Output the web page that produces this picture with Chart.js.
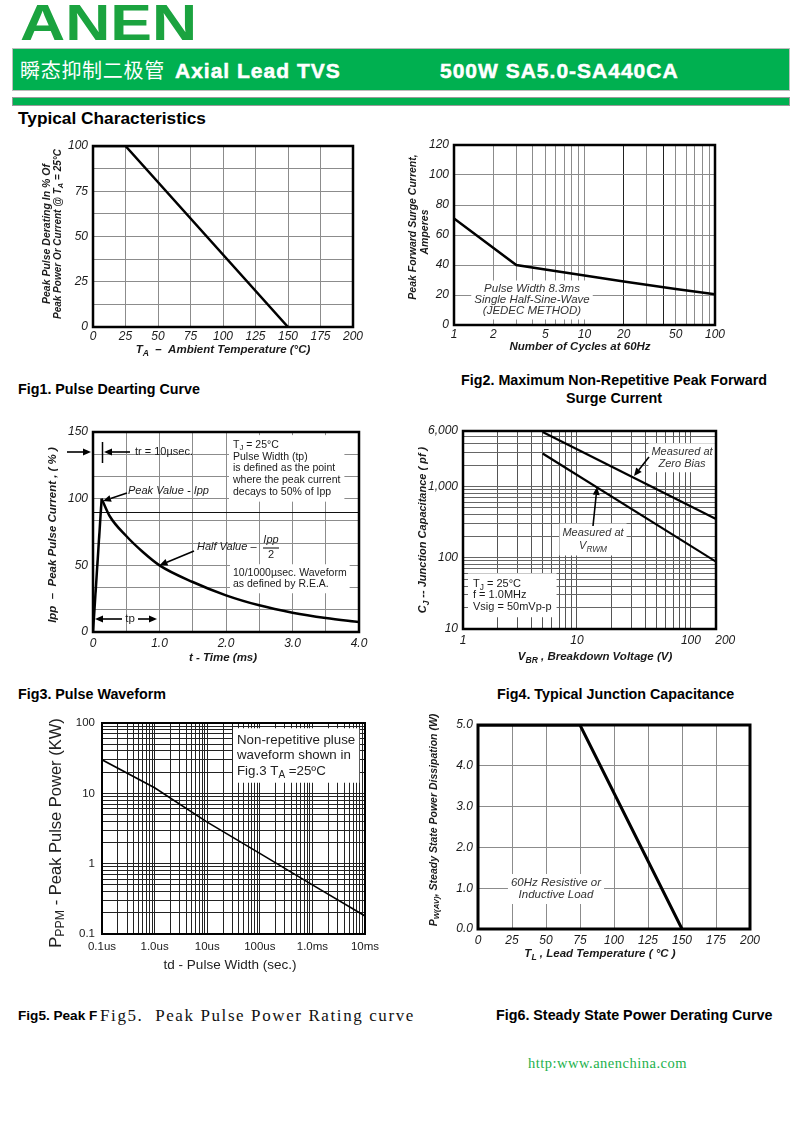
<!DOCTYPE html>
<html>
<head>
<meta charset="utf-8">
<script src="https://cdn.jsdelivr.net/npm/chart.js@4.4.1/dist/chart.umd.min.js"></script>
<style>
body { margin: 0; background: #fff; }
#page { position: relative; width: 800px; height: 1144px; overflow: hidden; background: #fff; font-family: "Liberation Sans", Arial, sans-serif; }
.t { position: absolute; white-space: nowrap; line-height: 1; color: #000; }
.b { font-weight: bold; }
canvas { position: absolute; }
#logo { left: 20px; top: -2px; font-size: 50px; font-weight: bold; color: #1ba33f; transform: scaleX(1.25); transform-origin: left top; }
#bar { position: absolute; left: 12px; top: 48px; width: 776px; height: 41px; background: #00b050; border: 1px solid #bdbdbd; }
#bar2 { position: absolute; left: 12px; top: 97px; width: 776px; height: 7px; background: #00b050; border: 1px solid #9a9a9a; }
.hd { color: #fff; font-size: 21px; font-weight: bold; letter-spacing: 1px; top: 60px; -webkit-text-stroke: 0.5px #fff; }
.cap { font-size: 14.3px; font-weight: bold; }
</style>
</head>
<body>
<div id="page">
  <div class="t" id="logo">ANEN</div>
  <div id="bar"></div>
  <div class="t" style="left:20px;top:60px;font-size:20px;letter-spacing:0.7px;color:#fff;font-family:'Noto Sans CJK SC',sans-serif;">瞬态抑制二极管</div>
  <div class="t hd" style="left:175px;">Axial Lead TVS</div>
  <div class="t hd" style="left:440px;">500W SA5.0-SA440CA</div>
  <div id="bar2"></div>
  <div class="t b" style="left:18px;top:110px;font-size:17.3px;">Typical Characteristics</div>

  <div class="t cap" style="left:18px;top:382px;">Fig1. Pulse Dearting Curve</div>
  <div class="t cap" style="left:414px;top:373px;width:400px;text-align:center;">Fig2. Maximum Non-Repetitive Peak Forward</div>
  <div class="t cap" style="left:414px;top:391px;width:400px;text-align:center;">Surge Current</div>
  <div class="t cap" style="left:18px;top:687px;">Fig3. Pulse Waveform</div>
  <div class="t cap" style="left:497px;top:687px;">Fig4. Typical Junction Capacitance</div>
  <div class="t cap" style="left:18px;top:1009px;font-size:13.6px;">Fig5. Peak F</div>
  <div class="t" style="left:100px;top:1007px;font-size:17px;letter-spacing:1.6px;font-family:'Liberation Serif',serif;color:#111;">Fig5.&nbsp; Peak Pulse Power Rating curve</div>
  <div class="t cap" style="left:496px;top:1008px;">Fig6. Steady State Power Derating Curve</div>
  <div class="t" style="left:528px;top:1056px;font-size:14.5px;letter-spacing:0.5px;font-family:'Liberation Serif',serif;color:#22b14c;">http:www.anenchina.com</div>
</div>

<script>
const SANS = '"Liberation Sans", Arial, sans-serif';

// Fig1 - pulse derating
const f1Temp = [0, 25, 150];
const f1Derate = [100, 100, 0];
const f1XTicks = [0, 25, 50, 75, 100, 125, 150, 175, 200];
const f1XText = ['0', '25', '50', '75', '100', '125', '150', '175', '200'];
const f1YTicks = [0, 25, 50, 75, 100];
const f1YText = ['0', '25', '50', '75', '100'];

// Fig2 - surge current vs cycles
const f2Cycles = [1, 3, 5, 10, 20, 50, 100];
const f2Surge = [71, 40, 37, 33, 29, 24, 20.5];
const f2XTicks = [1, 2, 5, 10, 20, 50, 100];
const f2XText = ['1', '2', '5', '10', '20', '50', '100'];
const f2YTicks = [0, 20, 40, 60, 80, 100, 120];
const f2YText = ['0', '20', '40', '60', '80', '100', '120'];

// Fig3 - pulse waveform
const f3RiseTime = [0, 0.13];
const f3RiseCurrent = [0, 100];
const f3DecayTime = [0.13, 0.25, 0.5, 0.75, 1.0, 1.5, 2.0, 2.5, 3.0, 3.5, 4.0];
const f3DecayCurrent = [100, 87, 72, 60, 50, 37.5, 27.5, 20, 14.5, 10.5, 7.5];
const f3XTicks = [0, 1, 2, 3, 4];
const f3XText = ['0', '1.0', '2.0', '3.0', '4.0'];
const f3YTicks = [0, 50, 100, 150];
const f3YText = ['0', '50', '100', '150'];

// Fig4 - junction capacitance
const f4Voltage = [5, 166];
const f4ZeroBias = [5800, 350];
const f4Vrwm = [2900, 88];
const f4XTicks = [1, 10, 100];
const f4XText = ['1', '10', '100'];
const f4YTicks = [10, 100, 1000, 6000];
const f4YText = ['10', '100', '1,000', '6,000'];

// Fig5 - peak pulse power vs pulse width (seconds)
const f5Width = [1e-7, 1e-6, 1e-5, 1e-4, 1e-3, 1e-2];
const f5Power = [30, 12, 3.9, 1.4, 0.5, 0.18];
const f5XTicks = [1e-7, 1e-6, 1e-5, 1e-4, 1e-3, 1e-2];
const f5XText = ['0.1us', '1.0us', '10us', '100us', '1.0ms', '10ms'];
const f5YTicks = [0.1, 1, 10, 100];
const f5YText = ['0.1', '1', '10', '100'];

// Fig6 - steady state derating
const f6Temp = [0, 75, 150];
const f6Power = [5, 5, 0];
const f6XTicks = [0, 25, 50, 75, 100, 125, 150, 175, 200];
const f6XText = ['0', '25', '50', '75', '100', '125', '150', '175', '200'];
const f6YTicks = [0, 1, 2, 3, 4, 5];
const f6YText = ['0.0', '1.0', '2.0', '3.0', '4.0', '5.0'];

const YW = 65, XH = 45, PT = 15, PR = 25;
const NOTES = {};

function steps(a, b, s) {
  const r = [];
  for (let v = a; v <= b + 1e-9; v += s) r.push(+v.toFixed(6));
  return r;
}
function logGrid(a, b) {
  const r = [];
  for (let e = Math.floor(Math.log10(a)); e <= Math.ceil(Math.log10(b)); e++) {
    for (let k = 1; k < 10; k++) {
      const v = +(k * Math.pow(10, e)).toPrecision(6);
      if (v >= a * 0.9999 && v <= b * 1.0001) r.push(v);
    }
  }
  return r;
}

// text with _{sub} parts
function parseRich(str) {
  const segs = [], re = /_\{([^}]*)\}/g;
  let last = 0, m;
  while ((m = re.exec(str))) {
    if (m.index > last) segs.push({ t: str.slice(last, m.index), sub: false });
    segs.push({ t: m[1], sub: true });
    last = re.lastIndex;
  }
  if (last < str.length) segs.push({ t: str.slice(last), sub: false });
  return segs;
}
function fontOf(n, sub) {
  const size = sub ? Math.round(n.size * 0.75 * 10) / 10 : n.size;
  return (n.style || 'normal') + ' ' + (n.weight || 'normal') + ' ' + size + 'px ' + (n.family || SANS);
}
function measureRich(ctx, str, n) {
  let w = 0;
  parseRich(str).forEach(s => { ctx.font = fontOf(n, s.sub); w += ctx.measureText(s.t).width; });
  return w;
}
function drawRich(ctx, str, x, y, n) {
  const segs = parseRich(str);
  const w = measureRich(ctx, str, n);
  let cx = n.align === 'center' ? x - w / 2 : n.align === 'right' ? x - w : x;
  ctx.textAlign = 'left';
  ctx.textBaseline = 'middle';
  segs.forEach(s => {
    ctx.font = fontOf(n, s.sub);
    ctx.fillText(s.t, cx, s.sub ? y + n.size * 0.3 : y);
    cx += ctx.measureText(s.t).width;
  });
}

function pos(chart, p) {
  const a = chart.chartArea;
  return [p.x != null ? chart.scales.x.getPixelForValue(p.x) : a.left + p.px,
          p.y != null ? chart.scales.y.getPixelForValue(p.y) : a.top + p.py];
}

function drawNote(ctx, chart, it) {
  ctx.save();
  if (it.type === 'arrow') {
    const [x1, y1] = pos(chart, it.from), [x2, y2] = pos(chart, it.to);
    const a = Math.atan2(y2 - y1, x2 - x1), hl = it.head || 8, hw = it.hw || 3.5;
    const bx = x2 - hl * Math.cos(a), by = y2 - hl * Math.sin(a);
    ctx.strokeStyle = ctx.fillStyle = '#000';
    ctx.lineWidth = it.w || 1.6;
    ctx.beginPath(); ctx.moveTo(x1, y1); ctx.lineTo(bx, by); ctx.stroke();
    ctx.beginPath(); ctx.moveTo(x2, y2);
    ctx.lineTo(bx + hw * Math.sin(a), by - hw * Math.cos(a));
    ctx.lineTo(bx - hw * Math.sin(a), by + hw * Math.cos(a));
    ctx.closePath(); ctx.fill();
  } else if (it.type === 'line') {
    const [x1, y1] = pos(chart, it.from), [x2, y2] = pos(chart, it.to);
    ctx.strokeStyle = '#000';
    ctx.lineWidth = it.w || 1;
    ctx.beginPath(); ctx.moveTo(x1, y1); ctx.lineTo(x2, y2); ctx.stroke();
  } else {
    const [X, Y] = pos(chart, it);
    ctx.translate(X, Y);
    if (it.rot) ctx.rotate(it.rot * Math.PI / 180);
    const lh = it.lh || it.size * 1.1;
    if (it.bg) {
      const w = Math.max(...it.lines.map(l => measureRich(ctx, l, it))), pad = it.pad || 3;
      const x0 = it.align === 'center' ? -w / 2 : it.align === 'right' ? -w : 0;
      ctx.fillStyle = '#fff';
      ctx.fillRect(x0 - pad, -lh / 2 - pad, w + 2 * pad, lh * it.lines.length + 2 * pad);
    }
    ctx.fillStyle = it.color || '#1a1a1a';
    it.lines.forEach((l, i) => drawRich(ctx, l, 0, i * lh, it));
  }
  ctx.restore();
}

const notesPlugin = {
  id: 'notes',
  beforeDatasetsDraw(chart) {
    const n = NOTES[chart.canvas.id];
    n.items.forEach(it => drawNote(chart.ctx, chart, it));
  },
  afterDatasetsDraw(chart) {
    const n = NOTES[chart.canvas.id], a = chart.chartArea, ctx = chart.ctx;
    ctx.save();
    ctx.strokeStyle = '#000';
    ctx.lineWidth = n.frame;
    ctx.strokeRect(a.left, a.top, a.right - a.left, a.bottom - a.top);
    ctx.restore();
  }
};

function axis(kind, type, min, max, grid, tickVals, tickText, o) {
  return {
    type: type, min: min, max: max,
    afterBuildTicks: s => { s.ticks = grid.map(v => ({ value: v })); },
    afterFit: s => {
      if (kind === 'x') { s.height = XH; s.paddingLeft = 0; s.paddingRight = 0; }
      else { s.width = YW; s.paddingTop = 0; s.paddingBottom = 0; }
    },
    ticks: {
      autoSkip: false, maxRotation: 0, minRotation: 0, padding: o.pad, color: '#1a1a1a',
      font: { family: SANS, size: o.size || 12, style: o.style || 'italic' },
      callback: v => {
        const i = tickVals.findIndex(t => Math.abs(v - t) <= Math.abs(t) * 1e-4 + 1e-9);
        return i < 0 ? '' : tickText[i];
      }
    },
    grid: { color: o.grid, lineWidth: 1, drawTicks: false },
    border: { display: false }
  };
}

function series(xs, ys, w, extra) {
  return Object.assign({
    data: xs.map((x, i) => ({ x: x, y: ys[i] })),
    borderColor: '#000', borderWidth: w, pointRadius: 0, tension: 0
  }, extra || {});
}

function makeChart(id, rect, xs, ys, datasets, notes) {
  const [L, T, R, B] = rect;
  const c = document.createElement('canvas');
  const w = R - L + YW + PR, h = B - T + PT + XH;
  c.id = id;
  c.width = w; c.height = h;
  c.style.left = (L - YW) + 'px'; c.style.top = (T - PT) + 'px';
  c.style.width = w + 'px'; c.style.height = h + 'px';
  document.getElementById('page').appendChild(c);
  NOTES[id] = notes;
  return new Chart(c, {
    type: 'line',
    data: { datasets: datasets },
    options: {
      responsive: false, animation: false, events: [],
      layout: { padding: { left: 0, top: PT, right: PR, bottom: 0 } },
      plugins: { legend: { display: false }, tooltip: { enabled: false } },
      scales: { x: xs, y: ys }
    },
    plugins: [notesPlugin]
  });
}

const BI = { style: 'italic', weight: 'bold' };
function title(str, px, py, size, extra) {
  return Object.assign({ lines: [str], px: px, py: py, size: size, align: 'center' }, BI, extra || {});
}

// ---- Fig1 ----
makeChart('fig1', [93, 146, 353, 327],
  axis('x', 'linear', 0, 200, steps(0, 200, 25), f1XTicks, f1XText, { pad: 2, grid: '#8c8c8c' }),
  axis('y', 'linear', 0, 100, steps(0, 100, 12.5), f1YTicks, f1YText, { pad: 5, grid: '#8c8c8c' }),
  [series(f1Temp, f1Derate, 2.5)],
  { frame: 2.5, items: [
    title('Peak Pulse Derating In % Of', -46, 88, 10.5, { rot: -90 }),
    title('Peak Power Or Current @ T_{A} = 25°C', -35, 88, 10, { rot: -90 }),
    title('T_{A}  –  Ambient Temperature (°C)', 130, 204, 11.5)
  ] });

// ---- Fig2 ----
makeChart('fig2', [454, 145, 715, 325],
  axis('x', 'logarithmic', 1, 100, logGrid(1, 100), f2XTicks, f2XText,
    { pad: 2, grid: c => (c.tick && (c.tick.value === 20 || c.tick.value === 40)) ? '#222' : '#8c8c8c' }),
  axis('y', 'linear', 0, 120, steps(0, 120, 20), f2YTicks, f2YText, { pad: 5, grid: '#8c8c8c' }),
  [series(f2Cycles, f2Surge, 2.5)],
  { frame: 2.5, items: [
    title('Peak Forward Surge Current,', -41, 82, 10.5, { rot: -90 }),
    title('Amperes', -29, 87, 10.5, { rot: -90 }),
    title('Number of Cycles at 60Hz', 126, 202, 11.5),
    { lines: ['Pulse Width 8.3ms', 'Single Half-Sine-Wave', '(JEDEC METHOD)'], px: 78, py: 144, lh: 11,
      size: 11.5, style: 'italic', align: 'center', bg: true, color: '#333' }
  ] });

// ---- Fig3 ----
const f3Grid = steps(0, 150, 50 / 3).concat([90]).sort((a, b) => a - b);
makeChart('fig3', [93, 432, 359, 632],
  axis('x', 'linear', 0, 4, steps(0, 4, 0.5), f3XTicks, f3XText, { pad: 4, grid: '#8c8c8c' }),
  axis('y', 'linear', 0, 150, f3Grid, f3YTicks, f3YText,
    { pad: 5, grid: c => (c.tick && c.tick.value === 90) ? '#111' : '#8c8c8c' }),
  [series(f3RiseTime, f3RiseCurrent, 2.5),
   series(f3DecayTime, f3DecayCurrent, 2.5, { cubicInterpolationMode: 'monotone' })],
  { frame: 2.5, items: [
    title('Ipp  –  Peak Pulse Current , ( % )', -40, 103, 11.5, { rot: -90 }),
    title('t - Time (ms)', 130, 226, 11.5),
    { type: 'arrow', from: { px: -26, py: 20 }, to: { px: -2, py: 20 } },
    { type: 'arrow', from: { px: 37, py: 20 }, to: { px: 11, py: 20 } },
    { type: 'line', from: { px: 9.5, py: 10 }, to: { px: 9.5, py: 31 }, w: 1.5 },
    { lines: ['tr = 10µsec.'], px: 42, py: 20, size: 11 },
    { lines: ['T_{J} = 25°C', 'Pulse Width (tp)', 'is defined as the point', 'where the peak current', 'decays to 50% of Ipp'],
      px: 140, py: 13, lh: 11.7, size: 10.5, bg: true, pad: 4 },
    { lines: ['Peak Value - Ipp'], px: 35, py: 59, size: 11, style: 'italic' },
    { type: 'arrow', from: { px: 34, py: 61 }, to: { px: 10, py: 69 } },
    { lines: ['Half Value –'], px: 104, py: 115, size: 11, style: 'italic' },
    { lines: ['Ipp'], px: 178, py: 108, size: 11, style: 'italic', align: 'center' },
    { lines: ['2'], px: 178, py: 123, size: 11, align: 'center' },
    { type: 'line', from: { px: 170, py: 116 }, to: { px: 186, py: 116 }, w: 1 },
    { type: 'arrow', from: { px: 101, py: 119 }, to: { x: 1.0, y: 50 } },
    { lines: ['10/1000µsec. Waveform', 'as defined by R.E.A.'], px: 140, py: 141, lh: 11.5, size: 10.5, bg: true, pad: 3 },
    { type: 'arrow', from: { px: 29, py: 187 }, to: { px: 2, py: 187 } },
    { lines: ['tp'], px: 37, py: 187, size: 11.5, align: 'center' },
    { type: 'arrow', from: { px: 45, py: 187 }, to: { px: 64, py: 187 } }
  ] });

// ---- Fig4 ----
makeChart('fig4', [463, 431, 716, 629],
  axis('x', 'logarithmic', 1, 166, logGrid(1, 166), f4XTicks, f4XText, { pad: 4, grid: '#555' }),
  axis('y', 'logarithmic', 10, 6000, logGrid(10, 6000), f4YTicks, f4YText, { pad: 5, grid: '#666' }),
  [series(f4Voltage, f4ZeroBias, 2.2), series(f4Voltage, f4Vrwm, 2.2)],
  { frame: 2.5, items: [
    title('C_{J} -- Junction Capacitance ( pf )', -40, 99, 11, { rot: -90 }),
    title('V_{BR} , Breakdown Voltage (V)', 132, 226, 11.5),
    { lines: ['Measured at', 'Zero Bias'], px: 219, py: 21, lh: 11.5, size: 11, style: 'italic', align: 'center', bg: true, color: '#333' },
    { type: 'arrow', from: { px: 186, py: 26 }, to: { px: 171, py: 45 } },
    { lines: ['Measured at', 'V_{RWM}'], px: 130, py: 102, lh: 13, size: 11, style: 'italic', align: 'center', bg: true, color: '#333' },
    { type: 'arrow', from: { px: 130, py: 95 }, to: { px: 134, py: 56 } },
    { lines: ['T_{J} = 25°C', 'f = 1.0MHz', 'Vsig = 50mVp-p'], px: 10, py: 153, lh: 11.3, size: 11, bg: true, pad: 5 },
    { lines: ['200'], x: 200, py: 210, size: 12, style: 'italic', align: 'center' }
  ] });

// ---- Fig5 ----
makeChart('fig5', [102, 723, 365, 934],
  axis('x', 'logarithmic', 1e-7, 1e-2, logGrid(1e-7, 1e-2), f5XTicks, f5XText, { pad: 6, grid: '#222', style: 'normal', size: 11.5 }),
  axis('y', 'logarithmic', 0.1, 100, logGrid(0.1, 100), f5YTicks, f5YText, { pad: 7, grid: '#222', style: 'normal', size: 11.5 }),
  [series(f5Width, f5Power, 1.6)],
  { frame: 2, items: [
    { lines: ['P_{PPM} - Peak Pulse Power (KW)'], px: -46, py: 110, size: 16.5, rot: -90, align: 'center', color: '#222' },
    { lines: ['td - Pulse Width (sec.)'], px: 128, py: 242, size: 13.5, align: 'center', color: '#222' },
    { lines: ['Non-repetitive pluse', 'waveform shown in', 'Fig.3 T_{A} =25ºC'], px: 135, py: 17, lh: 15.5, size: 13.3, bg: true, pad: 4, color: '#222' }
  ] });

// ---- Fig6 ----
makeChart('fig6', [478, 725, 750, 929],
  axis('x', 'linear', 0, 200, steps(0, 200, 25), f6XTicks, f6XText, { pad: 4, grid: '#8c8c8c' }),
  axis('y', 'linear', 0, 5, steps(0, 5, 1), f6YTicks, f6YText, { pad: 5, grid: '#8c8c8c' }),
  [series(f6Temp, f6Power, 3)],
  { frame: 3, items: [
    title('P_{W(AV)}, Steady State Power Dissipation (W)', -44, 95, 10.5, { rot: -90 }),
    title('T_{L} , Lead Temperature ( °C )', 122, 229, 11.5),
    { lines: ['60Hz Resistive or', 'Inductive Load'], px: 78, py: 158, lh: 12, size: 11.5, style: 'italic', align: 'center', bg: true, color: '#333' }
  ] });
</script>
</body>
</html>
